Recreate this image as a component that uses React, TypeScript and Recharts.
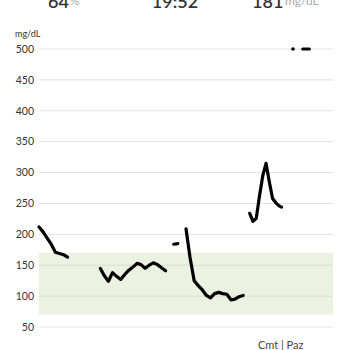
import React from "react";
import {
  LineChart,
  Line,
  XAxis,
  YAxis,
  CartesianGrid,
  ReferenceArea,
} from "recharts";

// dakika (0 = grafiğin sol kenarı); null = okuma yok
const zaman = [
  0, 5, 10, 15, 20, 25, 30, 35, 55,
  75, 80, 85, 90, 95, 100, 105, 110, 115, 120, 125, 130, 135, 140, 145, 150, 155, 160,
  165, 170, 175,
  180, 185, 190, 195, 200, 205, 210, 215, 220, 225, 230, 235, 240, 245, 250, 254,
  258, 262, 266, 270, 274, 278, 282, 286, 290, 294, 297, 304,
  311, 317, 323, 327, 331,
];

const glikoz: (number | null)[] = [
  212, 204, 194, 184, 171, 169, 167, 163, null,
  145, 133, 124, 138, 132, 127, 135, 142, 147, 153, 151, 145, 150, 154, 151, 146, 141, null,
  184, 185, null,
  209, 162, 125, 117, 110, 101, 97, 104, 106, 104, 103, 94, 95, 99, 101, null,
  234, 221, 226, 262, 295, 315, 285, 258, 251, 246, 244, null,
  null, null, 500, 500, 500,
];

// tek başına kalan okumalar (sadece nokta)
const tekOkuma: (number | null)[] = zaman.map((t) => (t === 311 ? 500 : null));

const yTicks = [50, 100, 150, 200, 250, 300, 350, 400, 450, 500];
const hedefAralik = [70, 170];
const gunGecisi = 296;

const data = zaman.map((t, i) => ({ t, v: glikoz[i], tek: tekOkuma[i] }));

const font = "Lato, 'Open Sans', sans-serif";

export default function App() {
  return (
    <div
      style={{
        position: "absolute",
        top: 0,
        left: 0,
        width: 350,
        height: 350,
        background: "#fff",
        overflow: "hidden",
        fontFamily: font,
      }}
    >
      <LineChart
        width={350}
        height={350}
        data={data}
        margin={{ top: 49, right: 17, bottom: 0, left: 0 }}
      >
        <CartesianGrid vertical={false} stroke="#e2e2e2" />
        <ReferenceArea
          y1={hedefAralik[0]}
          y2={hedefAralik[1]}
          fill="#c8d9a8"
          fillOpacity={0.35}
          stroke="none"
        />
        <XAxis
          type="number"
          dataKey="t"
          domain={[0, 360]}
          ticks={[gunGecisi]}
          tickFormatter={() => "Cmt  |  Paz"}
          axisLine={false}
          tickLine={false}
          tickSize={0}
          tickMargin={14}
          height={23}
          tick={{ fontSize: 11, fill: "#444", fontFamily: font }}
        />
        <YAxis
          domain={[50, 500]}
          ticks={yTicks}
          width={39}
          axisLine={false}
          tickLine={false}
          tickSize={0}
          tickMargin={5}
          tick={{ fontSize: 10.5, fill: "#333", fontFamily: font }}
        />
        <Line
          type="linear"
          dataKey="v"
          stroke="#000"
          strokeWidth={3.2}
          strokeLinejoin="round"
          strokeLinecap="round"
          dot={false}
          activeDot={false}
          connectNulls={false}
          isAnimationActive={false}
        />
        <Line
          type="linear"
          dataKey="tek"
          stroke="none"
          dot={{ r: 1.8, fill: "#000", stroke: "none" }}
          activeDot={false}
          isAnimationActive={false}
        />
      </LineChart>

      <svg
        width={350}
        height={350}
        style={{ position: "absolute", top: 0, left: 0, pointerEvents: "none" }}
        fontFamily={font}
      >
        <text x={48} y={8} fontSize={18} fontWeight={600} fill="#333">64</text>
        <text x={70} y={5} fontSize={12} fill="#aaa">%</text>
        <text x={175} y={8} fontSize={18} fontWeight={600} fill="#333" textAnchor="middle">19:52</text>
        <text x={252} y={8} fontSize={18} fontWeight={600} fill="#333">181</text>
        <text x={285} y={5} fontSize={12} fill="#aaa">mg/dL</text>
        <text x={15} y={37} fontSize={9} fill="#333">mg/dL</text>
      </svg>
    </div>
  );
}
